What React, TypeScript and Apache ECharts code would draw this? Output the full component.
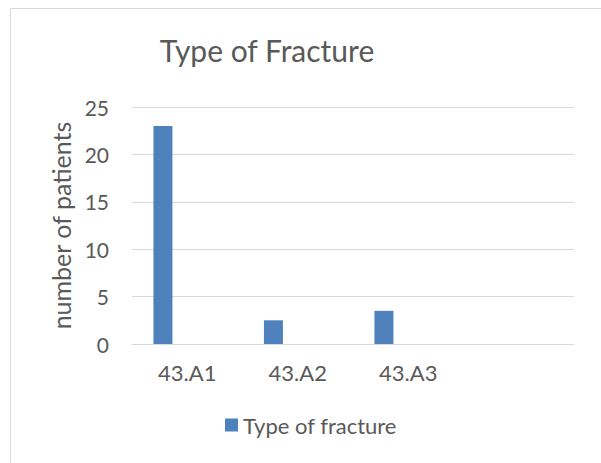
import React, { useEffect, useRef } from "react";
import * as echarts from "echarts";

const categories = ["43.A1", "43.A2", "43.A3", ""];
const fractureCounts = [23, 2.5, 3.5, null];
const emptySeries = [null, null, null, null];
const yTicks = { min: 0, max: 25, interval: 5 };

const FONT = "Lato, 'Open Sans', sans-serif";
const TEXT = "#595959";

export default function App() {
  const ref = useRef<HTMLDivElement>(null);
  useEffect(() => {
    document.body.style.margin = "0";
    const chart = echarts.init(ref.current!, null, { renderer: "svg" });
    chart.setOption({
      animation: false,
      backgroundColor: "#ffffff",
      textStyle: { fontFamily: FONT, color: TEXT },
      graphic: [
        {
          type: "rect",
          shape: { x: 10.5, y: 8.5, width: 596, height: 462 },
          style: { fill: "none", stroke: "#d9d9d9", lineWidth: 1 },
          silent: true,
        },
      ],
      title: {
        text: "Type of Fracture",
        left: 262,
        top: 30,
        textAlign: "center",
        textStyle: { fontFamily: FONT, fontSize: 30, fontWeight: "normal", color: TEXT },
      },
      legend: {
        data: ["Type of fracture"],
        left: 220,
        top: 409,
        itemWidth: 13,
        itemHeight: 13,
        itemGap: 10,
        icon: "rect",
        textStyle: { fontFamily: FONT, fontSize: 22, color: TEXT },
      },
      grid: { left: 132, right: 27, top: 107, bottom: 119 },
      xAxis: {
        type: "category",
        data: categories,
        axisLine: { lineStyle: { color: "#d9d9d9", width: 1 } },
        axisTick: { show: false },
        axisLabel: { fontFamily: FONT, fontSize: 22, color: TEXT, margin: 17 },
      },
      yAxis: {
        type: "value",
        min: yTicks.min,
        max: yTicks.max,
        interval: yTicks.interval,
        name: "number of patients",
        nameLocation: "middle",
        nameGap: 55,
        nameTextStyle: { fontFamily: FONT, fontSize: 25, color: TEXT },
        axisLine: { show: false },
        axisTick: { show: false },
        splitLine: { lineStyle: { color: "#d9d9d9", width: 1 } },
        axisLabel: { fontFamily: FONT, fontSize: 21, color: TEXT, margin: 23 },
      },
      series: [
        {
          name: "Type of fracture",
          type: "bar",
          data: fractureCounts,
          barWidth: 19,
          barGap: "28%",
          itemStyle: { color: "#4f81bd" },
        },
        { name: "s2", type: "bar", data: emptySeries, barWidth: 19, barGap: "28%" },
        { name: "s3", type: "bar", data: emptySeries, barWidth: 19, barGap: "28%" },
      ],
    });
    return () => chart.dispose();
  }, []);
  return <div ref={ref} style={{ width: 601, height: 463 }} />;
}
